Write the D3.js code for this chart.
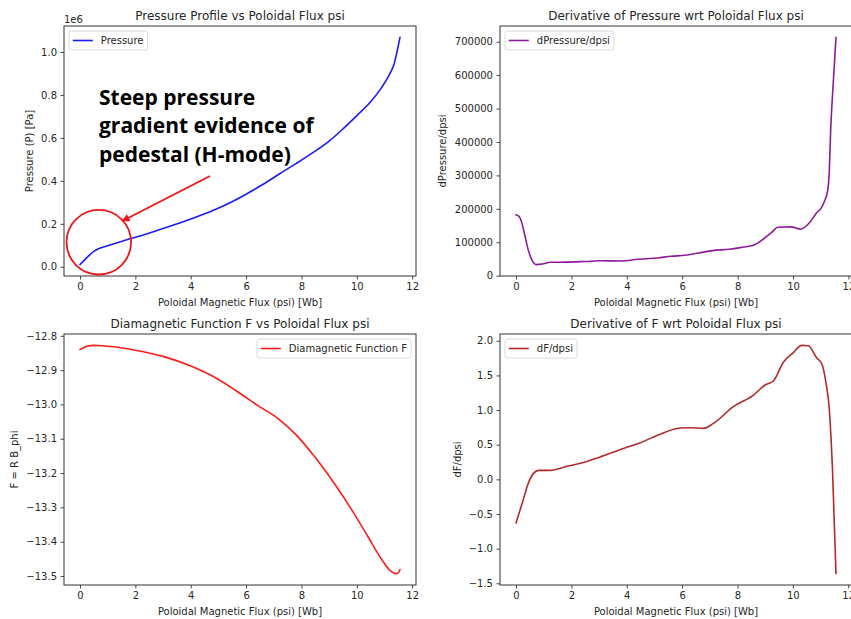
<!DOCTYPE html>
<html>
<head>
<meta charset="utf-8">
<script src="https://cdn.jsdelivr.net/npm/d3@7"></script>
<style>
  html, body { margin: 0; padding: 0; background: #fff; overflow: hidden; }
  svg { display: block; font-family: "DejaVu Sans", sans-serif; }
  text { fill: #262626; }
</style>
</head>
<body>
<svg id="fig" width="851" height="619"></svg>
<script>
// Poloidal flux samples (Wb) and profiles for each panel
const psiP   = [0, 0.15, 0.33, 0.5, 0.65, 0.85, 1.2, 1.8, 2.4, 3.0, 3.6, 4.2, 4.8, 5.4, 6.0, 6.6, 7.2, 7.8, 8.4, 9.0, 9.5, 10.0, 10.5, 10.9, 11.2, 11.35, 11.45, 11.56];
const pressure = [10000, 30000, 53000, 72000, 83000, 92000, 106000, 130000, 153000, 178000, 204000, 232000, 262000, 297000, 338000, 383000, 432000, 480000, 530000, 585000, 642000, 704000, 768000, 835000, 900000, 945000, 1000000, 1068000];

const psiDP  = [0, 0.12, 0.22, 0.32, 0.45, 0.58, 0.75, 0.95, 1.25, 1.8, 2.5, 3.1, 3.8, 4.4, 5.1, 5.6, 6.1, 6.6, 7.1, 7.7, 8.1, 8.56, 8.92, 9.22, 9.45, 9.93, 10.27, 10.6, 10.84, 11.02, 11.13, 11.25, 11.3, 11.36, 11.45, 11.55];
const dPressure = [182000, 176000, 155000, 120000, 75000, 46000, 33000, 35000, 40000, 40500, 42500, 44500, 44000, 49000, 53000, 58000, 61000, 68000, 75000, 79000, 84000, 91000, 109000, 129000, 145000, 146000, 139000, 159000, 187000, 203000, 222000, 255000, 300000, 440000, 575000, 713000];

const psiF   = [0, 0.15, 0.3, 0.5, 0.8, 1.2, 2.0, 3.0, 4.0, 4.8, 5.6, 6.4, 7.2, 7.8, 8.5, 9.2, 9.8, 10.4, 10.9, 11.2, 11.4, 11.48, 11.56];
const fDiamag = [-12.840, -12.834, -12.830, -12.828, -12.829, -12.832, -12.842, -12.860, -12.888, -12.918, -12.958, -13.002, -13.044, -13.088, -13.155, -13.232, -13.305, -13.385, -13.452, -13.484, -13.493, -13.492, -13.481];

const psiDF  = [0, 0.22, 0.46, 0.64, 0.82, 1.24, 1.84, 2.44, 3.04, 3.88, 4.49, 5.21, 5.93, 6.29, 6.77, 7.13, 7.85, 8.58, 9.0, 9.3, 9.66, 10.02, 10.32, 10.56, 10.86, 11.05, 11.2, 11.32, 11.38, 11.43, 11.56];
const dF = [-0.63, -0.35, -0.04, 0.09, 0.13, 0.13, 0.188, 0.242, 0.324, 0.445, 0.528, 0.652, 0.740, 0.745, 0.735, 0.807, 1.049, 1.217, 1.362, 1.42, 1.69, 1.83, 1.933, 1.928, 1.755, 1.665, 1.387, 1.0, 0.6, 0.18, -1.36];

const xTicks = [0, 2, 4, 6, 8, 10, 12];
const pressureTicks = [0, 200000, 400000, 600000, 800000, 1000000];
const dPressureTicks = [0, 100000, 200000, 300000, 400000, 500000, 600000, 700000];
const fTicks = [-12.8, -12.9, -13.0, -13.1, -13.2, -13.3, -13.4, -13.5];
const dFTicks = [-1.5, -1.0, -0.5, 0.0, 0.5, 1.0, 1.5, 2.0];

const titles = ["Pressure Profile vs Poloidal Flux psi", "Derivative of Pressure wrt Poloidal Flux psi",
                "Diamagnetic Function F vs Poloidal Flux psi", "Derivative of F wrt Poloidal Flux psi"];
const yLabels = ["Pressure (P) [Pa]", "dPressure/dpsi", "F = R B_phi", "dF/dpsi"];
const legendLabels = ["Pressure", "dPressure/dpsi", "Diamagnetic Function F", "dF/dpsi"];
const xLabel = "Poloidal Magnetic Flux (psi) [Wb]";
const noteLines = ["Steep pressure", "gradient evidence of", "pedestal (H-mode)"];

const svg = d3.select("#fig");
const defs = svg.append("defs");
defs.append("marker").attr("id", "arrowhead")
  .attr("viewBox", "0 0 10 10").attr("refX", 9).attr("refY", 5)
  .attr("markerWidth", 9).attr("markerHeight", 8).attr("markerUnits", "userSpaceOnUse")
  .attr("orient", "auto")
  .append("path").attr("d", "M0,0 L10,5 L0,10 z").attr("fill", "#f01414");

const fmt1 = d3.format(".1f");
const panels = [
  { x: psiP,  y: pressure,  box: [64, 26, 352, 250],  color: "#1a1aff", ticks: pressureTicks,
    fmt: v => fmt1(v / 1e6), yLabelX: 30, legend: "left", offset: "1e6" },
  { x: psiDP, y: dPressure, box: [500, 26, 352, 250], color: "#8e1a9a", ticks: dPressureTicks,
    fmt: d3.format("d"), yLabelX: 443, legend: "left" },
  { x: psiF,  y: fDiamag,   box: [64, 334, 352, 251], color: "#ff1a1a", ticks: fTicks,
    fmt: fmt1, yLabelX: 15, legend: "right" },
  { x: psiDF, y: dF,        box: [500, 334, 352, 251], color: "#b22a2a", ticks: dFTicks,
    fmt: fmt1, yLabelX: 458, legend: "left" }
];

function padded(ext) {
  const r = ext[1] - ext[0];
  return [ext[0] - 0.05 * r, ext[1] + 0.05 * r];
}

panels.forEach((p, i) => {
  const [L, T, W, H] = p.box;
  const xs = d3.scaleLinear().domain(padded(d3.extent(p.x))).range([L, L + W]);
  const ys = d3.scaleLinear().domain(padded(d3.extent(p.y))).range([T + H, T]);
  const g = svg.append("g");

  // data line
  const pts = p.x.map((v, k) => [v, p.y[k]]);
  g.append("path").datum(pts)
    .attr("fill", "none").attr("stroke", p.color).attr("stroke-width", 1.6)
    .attr("stroke-linejoin", "round").attr("stroke-linecap", "round")
    .attr("d", d3.line().x(d => xs(d[0])).y(d => ys(d[1])).curve(d3.curveMonotoneX));

  // axes
  const xa = g.append("g").attr("transform", `translate(0,${T + H})`)
    .call(d3.axisBottom(xs).tickValues(xTicks).tickFormat(d3.format("d")).tickSize(3.5).tickPadding(3.5).tickSizeOuter(0));
  const ya = g.append("g").attr("transform", `translate(${L},0)`)
    .call(d3.axisLeft(ys).tickValues(p.ticks).tickFormat(p.fmt).tickSize(3.5).tickPadding(3.5).tickSizeOuter(0));
  [xa, ya].forEach(a => {
    a.attr("font-family", null);
    a.select(".domain").remove();
    a.selectAll(".tick line").attr("stroke", "#333").attr("stroke-width", 0.9);
    a.selectAll(".tick text").attr("font-size", 10).attr("fill", "#262626");
  });

  // spines
  g.append("rect").attr("x", L).attr("y", T).attr("width", W).attr("height", H)
    .attr("fill", "none").attr("stroke", "#333").attr("stroke-width", 1);

  // title and labels
  g.append("text").attr("x", L + W / 2).attr("y", T - 6).attr("text-anchor", "middle")
    .attr("font-size", 12).text(titles[i]);
  g.append("text").attr("x", L + W / 2).attr("y", T + H + 30).attr("text-anchor", "middle")
    .attr("font-size", 10).text(xLabel);
  g.append("text").attr("transform", `translate(${p.yLabelX},${T + H / 2}) rotate(-90)`)
    .attr("text-anchor", "middle").attr("dominant-baseline", "middle")
    .attr("font-size", 10).text(yLabels[i]);
  if (p.offset) {
    g.append("text").attr("x", L).attr("y", T - 3).attr("font-size", 10).text(p.offset);
  }

  // legend
  const lg = g.append("g");
  const lt = lg.append("text").attr("font-size", 10).text(legendLabels[i]);
  const tw = lt.node().getComputedTextLength();
  const bw = 3.8 + 20 + 8 + tw + 4;
  const bh = 19;
  const bx = p.legend === "left" ? L + 5 : L + W - 5 - bw;
  const by = T + 5;
  lg.insert("rect", "text").attr("x", bx).attr("y", by).attr("width", bw).attr("height", bh)
    .attr("rx", 2.5).attr("fill", "#fff").attr("fill-opacity", 0.8)
    .attr("stroke", "#d6d6d6").attr("stroke-width", 0.9);
  lg.append("line").attr("x1", bx + 3.8).attr("x2", bx + 23.8).attr("y1", by + bh / 2).attr("y2", by + bh / 2)
    .attr("stroke", p.color).attr("stroke-width", 1.6);
  lt.attr("x", bx + 31.8).attr("y", by + bh / 2 + 3.6);

  // pedestal callout on the pressure panel
  if (i === 0) {
    const note = g.append("text")
      .style("font-family", "'Open Sans', Lato, sans-serif").style("font-weight", 700)
      .style("font-size", "21px").style("fill", "#000");
    noteLines.forEach((s, k) => note.append("tspan").attr("x", 99).attr("y", 105 + k * 28.4).text(s));
    g.append("circle").attr("cx", 98.8).attr("cy", 242.2).attr("r", 32.3)
      .attr("fill", "none").attr("stroke", "#f01414").attr("stroke-width", 1.8);
    g.append("line").attr("x1", 210).attr("y1", 176).attr("x2", 122.3).attr("y2", 221)
      .attr("stroke", "#f01414").attr("stroke-width", 1.8).attr("marker-end", "url(#arrowhead)");
  }
});
</script>
</body>
</html>
